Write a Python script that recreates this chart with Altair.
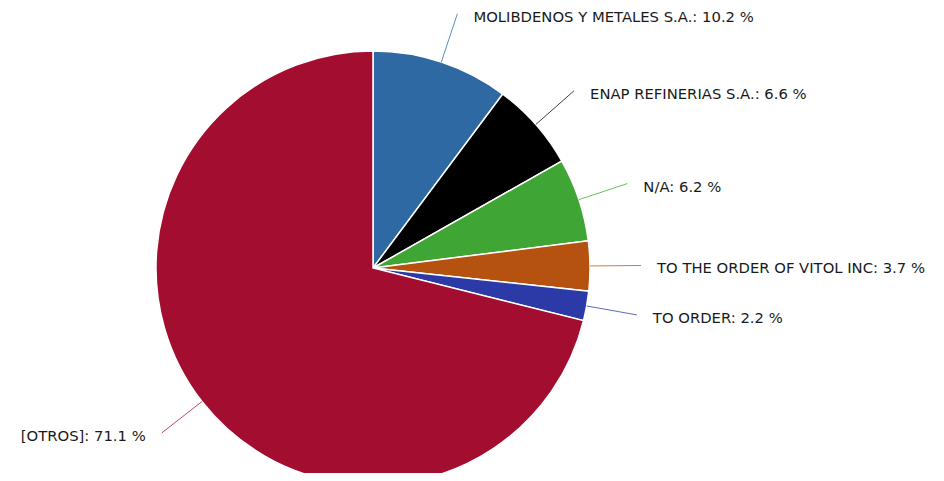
import altair as alt
import pandas as pd

categories = ["MOLIBDENOS Y METALES S.A.", "ENAP REFINERIAS S.A.", "N/A",
              "TO THE ORDER OF VITOL INC", "TO ORDER", "[OTROS]"]
values = [10.2, 6.6, 6.2, 3.7, 2.2, 71.1]
colors = ["#2e69a3", "#000000", "#3fa535", "#b5520f", "#2b3aa6", "#a30d30"]

df = pd.DataFrame({"cat": categories, "value": values, "idx": list(range(len(values)))})

CX, CY, R, RL = 365, 260, 217, 268

base = alt.Chart(df).transform_window(
    cum="sum(value)", sort=[alt.SortField("idx")], frame=[None, 0]
).transform_joinaggregate(total="sum(value)").transform_calculate(
    mid=f"(datum.cum - datum.value/2)/datum.total*2*PI",
).transform_calculate(
    x0=f"{CX} + {R}*sin(datum.mid)", y0=f"{CY} - {R}*cos(datum.mid)",
    x1=f"{CX} + {RL}*sin(datum.mid)", y1=f"{CY} - {RL}*cos(datum.mid)",
    side="sin(datum.mid) >= 0 ? 1 : -1",
    label="datum.cat + ': ' + format(datum.value, '.1f') + ' %'",
).transform_calculate(
    tx="datum.x1 + datum.side*16", ty="datum.y1 + 4"
)

color_scale = alt.Scale(domain=categories, range=colors)

pie = alt.Chart(df).mark_arc(outerRadius=R, stroke="white", strokeWidth=1.5).encode(
    theta=alt.Theta("value:Q", stack=True),
    color=alt.Color("cat:N", scale=color_scale, legend=None),
    order=alt.Order("idx:Q"),
    x=alt.value(CX), y=alt.value(CY),
)

lines = base.mark_rule(strokeWidth=1, opacity=0.75).encode(
    x=alt.X("x0:Q", scale=None), y=alt.Y("y0:Q", scale=None),
    x2="x1:Q", y2="y1:Q",
    color=alt.Color("cat:N", scale=color_scale, legend=None),
)

font = dict(font="DejaVu Sans", fontSize=14.8, color="#1a1a1a", baseline="middle")
right = base.transform_filter("datum.side > 0").mark_text(align="left", **font).encode(
    x=alt.X("tx:Q", scale=None), y=alt.Y("ty:Q", scale=None), text="label:N"
)
left = base.transform_filter("datum.side < 0").mark_text(align="right", **font).encode(
    x=alt.X("tx:Q", scale=None), y=alt.Y("ty:Q", scale=None), text="label:N"
)

chart = alt.layer(pie, lines, right, left).properties(
    width=928, height=465, padding=0,
    autosize=alt.AutoSizeParams(type="none"),
).configure_view(stroke=None)

chart.save("out.html", embed_options={"renderer": "svg", "actions": False})
